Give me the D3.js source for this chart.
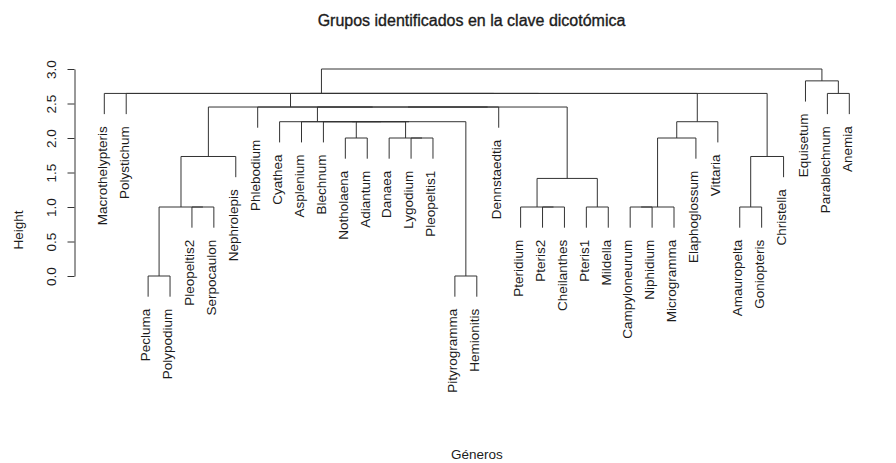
<!DOCTYPE html>
<html lang="es">
<head>
<meta charset="UTF-8">
<script src="https://cdn.jsdelivr.net/npm/d3@7"></script>
<title>Grupos identificados en la clave dicotómica</title>
<style>
  body { margin: 0; background: #fff; }
  text { font-family: "Liberation Sans", Arial, sans-serif; fill: #1c1c1c; }
</style>
</head>
<body>
<svg id="dend" width="896" height="463"></svg>
<script>
// leaf labels, in drawing order
const generos = [
  "Macrothelypteris", "Polystichum", "Pecluma", "Polypodium", "Pleopeltis2",
  "Serpocaulon", "Nephrolepis", "Phlebodium", "Cyathea", "Asplenium",
  "Blechnum", "Notholaena", "Adiantum", "Danaea", "Lygodium",
  "Pleopeltis1", "Pityrogramma", "Hemionitis", "Dennstaedtia", "Pteridium",
  "Pteris2", "Cheilanthes", "Pteris1", "Mildella", "Campyloneurum",
  "Niphidium", "Microgramma", "Elaphoglossum", "Vittaria", "Amauropelta",
  "Goniopteris", "Christella", "Equisetum", "Parablechnum", "Anemia"
];

// hclust-style merges: [left, right, height]; negative = leaf (1-based), positive = earlier merge row
const fusiones = [
  [-3, -4, 0], [-17, -18, 0],
  [-5, -6, 1], [1, 3, 1], [-21, -22, 1], [-20, 5, 1], [-23, -24, 1],
  [-25, -26, 1], [8, -27, 1], [-30, -31, 1],
  [6, 7, 1.414],
  [4, -7, 1.732], [10, -32, 1.732],
  [-12, -13, 2], [-15, -16, 2], [-14, 15, 2], [9, -28, 2],
  [14, 16, 2.236], [-11, 18, 2.236], [19, 2, 2.236], [-10, 20, 2.236], [-9, 21, 2.236], [17, -29, 2.236],
  [22, -19, 2.449], [24, 11, 2.449], [-8, 25, 2.449], [12, 26, 2.449],
  [27, 23, 2.646], [-2, 28, 2.646], [29, 13, 2.646], [-1, 30, 2.646], [-34, -35, 2.646],
  [-33, 32, 2.828],
  [31, 33, 3.0]
];

const alturasEje = [0, 0.5, 1, 1.5, 2, 2.5, 3];
const colgar = 0.3; // how far leaves hang below their merge

let svg = d3.select("#dend");

let x = d3.scaleLinear()
  .domain([-1.36, generos.length - 1 + 1.36])
  .range([74.5, 879.1]);
let y = d3.scaleLinear()
  .domain([0, 3])
  .range([276, 69]);

// x of every merge = midpoint of its two children (like R)
let posX = [];
function cx(k) { return k < 0 ? x(-k - 1) : posX[k - 1]; }
fusiones.forEach((f, i) => { posX[i] = (cx(f[0]) + cx(f[1])) / 2; });

// bottom of a child branch
function cy(k, h) { return k < 0 ? h - colgar : fusiones[k - 1][2]; }

let hojaH = [];
fusiones.forEach(f => {
  [f[0], f[1]].forEach(k => { if (k < 0) hojaH[-k - 1] = f[2] - colgar; });
});

/* BRANCHES */
svg.append("g").selectAll("path")
  .data(fusiones)
  .join("path")
  .attr("d", f => {
    let p = d3.path();
    p.moveTo(cx(f[0]), y(cy(f[0], f[2])));
    p.lineTo(cx(f[0]), y(f[2]));
    p.lineTo(cx(f[1]), y(f[2]));
    p.lineTo(cx(f[1]), y(cy(f[1], f[2])));
    return p.toString();
  })
  .attr("fill", "none")
  .attr("stroke", "#333")
  .attr("stroke-width", 1);

/* LEAF LABELS */
svg.append("g").selectAll("text")
  .data(generos)
  .join("text")
  .attr("transform", (d, i) => `translate(${x(i)},${y(hojaH[i]) + 12}) rotate(-90)`)
  .attr("text-anchor", "end")
  .attr("dy", "0.17em")
  .style("font-size", "13.5px")
  .text(d => d);

/* AXIS */
let ejeY = d3.axisLeft(y)
  .tickValues(alturasEje)
  .tickFormat(d3.format(".1f"))
  .tickSize(7)
  .tickSizeOuter(0);

let gEje = svg.append("g")
  .attr("transform", `translate(${x.range()[0]},0)`)
  .call(ejeY);
gEje.select(".domain").attr("stroke", "#333");
gEje.selectAll(".tick line").attr("stroke", "#333");
gEje.selectAll(".tick text")
  .attr("x", 0)
  .attr("dy", 0)
  .attr("transform", "translate(-18.5,0) rotate(-90)")
  .attr("text-anchor", "middle")
  .style("font-size", "13.5px");

/* TITLES */
svg.append("text")
  .attr("x", 471.5)
  .attr("y", 26)
  .attr("text-anchor", "middle")
  .style("font-size", "16px")
  .style("stroke", "#1c1c1c")
  .style("stroke-width", 0.35)
  .text("Grupos identificados en la clave dicotómica");

svg.append("text")
  .attr("transform", "translate(22.5,230) rotate(-90)")
  .attr("text-anchor", "middle")
  .style("font-size", "13.5px")
  .text("Height");

svg.append("text")
  .attr("x", (x.range()[0] + x.range()[1]) / 2)
  .attr("y", 459)
  .attr("text-anchor", "middle")
  .style("font-size", "13.5px")
  .text("Géneros");
</script>
</body>
</html>
